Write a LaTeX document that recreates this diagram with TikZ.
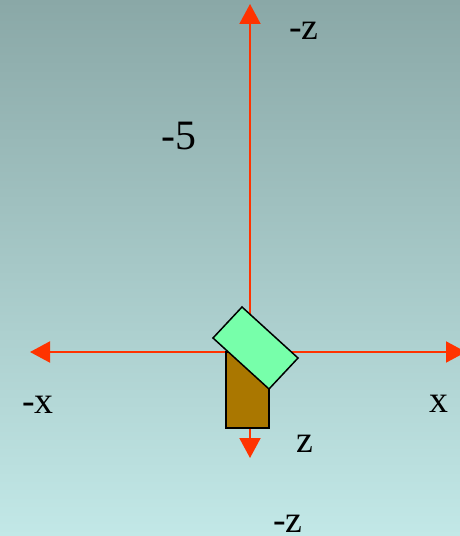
\documentclass[tikz,border=0pt]{standalone}
\usepackage{fontspec}
\setmainfont{Liberation Serif}
\usetikzlibrary{arrows.meta}
\definecolor{bgtop}{HTML}{8AA8A7}
\definecolor{bgbot}{HTML}{C2E8E7}
\definecolor{axisred}{HTML}{FF3300}
\definecolor{boxgreen}{HTML}{77FFAA}
\definecolor{boxbrown}{HTML}{AA7700}
\tikzset{
  axisline/.style={draw=axisred, line width=2bp, {Triangle[length=20bp,width=21bp]}-{Triangle[length=20bp,width=21bp]}},
  lbl/.style={font=\fontsize{38}{40}\selectfont, inner sep=0pt, anchor=base},
  numlbl/.style={font=\fontsize{42}{44}\selectfont, inner sep=0pt, anchor=base},
  block/.style={draw=black, line width=1.5bp, line join=miter}
}
\begin{document}
\begin{tikzpicture}[x=1bp,y=-1bp]
\useasboundingbox (0,0) rectangle (460,536);
\clip (0,0) rectangle (460,536);
\shade[top color=bgtop, bottom color=bgbot] (0,0) rectangle (460,536);
% axis end points
\coordinate (ztop) at (250,4);
\coordinate (zbot) at (250,458);
\coordinate (xleft) at (30,352);
\coordinate (xright) at (466,352);
\draw[axisline] (zbot) -- (ztop);
\draw[axisline] (xright) -- (xleft);
% brown block
\draw[block, fill=boxbrown] (226,352) rectangle (269,428);
% green block
\coordinate (g1) at (242,307);
\coordinate (g2) at (298,358);
\coordinate (g3) at (269,389);
\coordinate (g4) at (213,338);
\draw[block, fill=boxgreen] (g1) -- (g2) -- (g3) -- (g4) -- cycle;
% labels
\node[lbl] (lzt) at (304,40) {-z};
\node[numlbl] (lfive) at (179,150) {-5};
\node[lbl] (lxl) at (38,413) {-x};
\node[lbl] (lxr) at (439,412) {x};
\node[lbl] (lz) at (305,452) {z};
\node[lbl] (lzb) at (288,532) {-z};
\end{tikzpicture}
\end{document}
